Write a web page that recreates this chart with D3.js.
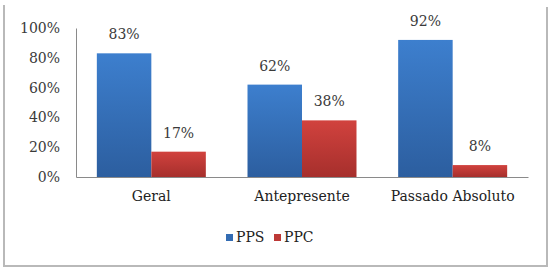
<!DOCTYPE html>
<html>
<head>
<meta charset="utf-8">
<script src="https://cdn.jsdelivr.net/npm/d3@7"></script>
<style>
  html, body { margin: 0; padding: 0; background: #fff; }
  svg { display: block; font-family: "DejaVu Serif", serif; }
</style>
</head>
<body>
<div id="chart"></div>
<script>
const categories = ['Geral', 'Antepresente', 'Passado Absoluto'];
const seriesNames = ['PPS', 'PPC'];
const ppsValues = [0.83, 0.62, 0.92];
const ppcValues = [0.17, 0.38, 0.08];
const yTicks = [0, 0.2, 0.4, 0.6, 0.8, 1];

function drawChart() {
    const width = 550, height = 269;
    const margin = { top: 28, right: 22, bottom: 92, left: 76 };
    const plotBottom = height - margin.bottom;

    const svg = d3.select('#chart').append('svg')
        .attr('width', width)
        .attr('height', height);

    // Gradients, Excel style
    const defs = svg.append('defs');
    const grads = [
        { id: 'gradPPS', top: '#3d7fce', bottom: '#2c5e9f' },
        { id: 'gradPPC', top: '#d1423e', bottom: '#a62f2c' }
    ];
    grads.forEach(gd => {
        const lg = defs.append('linearGradient')
            .attr('id', gd.id)
            .attr('x1', 0).attr('y1', 0).attr('x2', 0).attr('y2', 1);
        lg.append('stop').attr('offset', '0%').attr('stop-color', gd.top);
        lg.append('stop').attr('offset', '100%').attr('stop-color', gd.bottom);
    });
    const color = d3.scaleOrdinal().domain(seriesNames).range(['url(#gradPPS)', 'url(#gradPPC)']);
    const swatch = d3.scaleOrdinal().domain(seriesNames).range(['#336cb3', '#bd3936']);

    // Frame (left, right, bottom)
    const frame = svg.append('g')
        .attr('fill', 'none')
        .attr('stroke', '#b9b9b9')
        .attr('stroke-width', 2);
    frame.append('path').attr('d', 'M4,5 V266 H547 V7');

    const x0 = d3.scaleBand()
        .domain(categories)
        .range([margin.left, width - margin.right])
        .paddingInner(0.2766)
        .paddingOuter(0.1383);

    const x1 = d3.scaleBand()
        .domain(seriesNames)
        .range([0, x0.bandwidth()]);

    const y = d3.scaleLinear()
        .domain([0, 1])
        .range([plotBottom, margin.top]);

    const rows = categories.map((c, i) => ({
        category: c,
        values: [
            { key: 'PPS', value: ppsValues[i] },
            { key: 'PPC', value: ppcValues[i] }
        ]
    }));

    // Bars
    const groups = svg.append('g').selectAll('g')
        .data(rows)
        .join('g')
        .attr('transform', d => `translate(${x0(d.category)},0)`);

    groups.selectAll('rect')
        .data(d => d.values)
        .join('rect')
        .attr('x', d => x1(d.key))
        .attr('y', d => y(d.value))
        .attr('width', x1.bandwidth())
        .attr('height', d => plotBottom - y(d.value))
        .attr('fill', d => color(d.key));

    groups.selectAll('text')
        .data(d => d.values)
        .join('text')
        .attr('x', d => x1(d.key) + x1.bandwidth() / 2)
        .attr('y', d => y(d.value) - 14)
        .attr('text-anchor', 'middle')
        .attr('font-size', 14)
        .attr('fill', '#3a3a3a')
        .text(d => d3.format('.0%')(d.value));

    // Axes
    const yAxis = svg.append('g')
        .attr('transform', `translate(${margin.left},0)`)
        .call(d3.axisLeft(y).tickValues(yTicks).tickFormat(d3.format('.0%')).tickSize(0).tickPadding(16));
    yAxis.select('.domain').attr('stroke', '#8a8a8a');
    yAxis.selectAll('text')
        .attr('font-family', '"DejaVu Serif", serif')
        .attr('font-size', 14)
        .attr('fill', '#3a3a3a');

    const xAxis = svg.append('g')
        .attr('transform', `translate(0,${plotBottom})`)
        .call(d3.axisBottom(x0).tickSize(0).tickPadding(14));
    xAxis.select('.domain').attr('stroke', '#8a8a8a');
    xAxis.selectAll('text')
        .attr('font-family', '"DejaVu Serif", serif')
        .attr('font-size', 14)
        .attr('fill', '#222');

    // Legend
    const legend = svg.append('g').attr('transform', 'translate(226,237)');
    const items = legend.selectAll('g')
        .data(seriesNames)
        .join('g')
        .attr('transform', (d, i) => `translate(${i * 48},0)`);
    items.append('rect')
        .attr('x', 0).attr('y', -3)
        .attr('width', 7).attr('height', 7)
        .attr('fill', d => swatch(d));
    items.append('text')
        .attr('x', 10).attr('y', 5)
        .attr('font-size', 14)
        .attr('fill', '#222')
        .text(d => d);
}

drawChart();
</script>
</body>
</html>
